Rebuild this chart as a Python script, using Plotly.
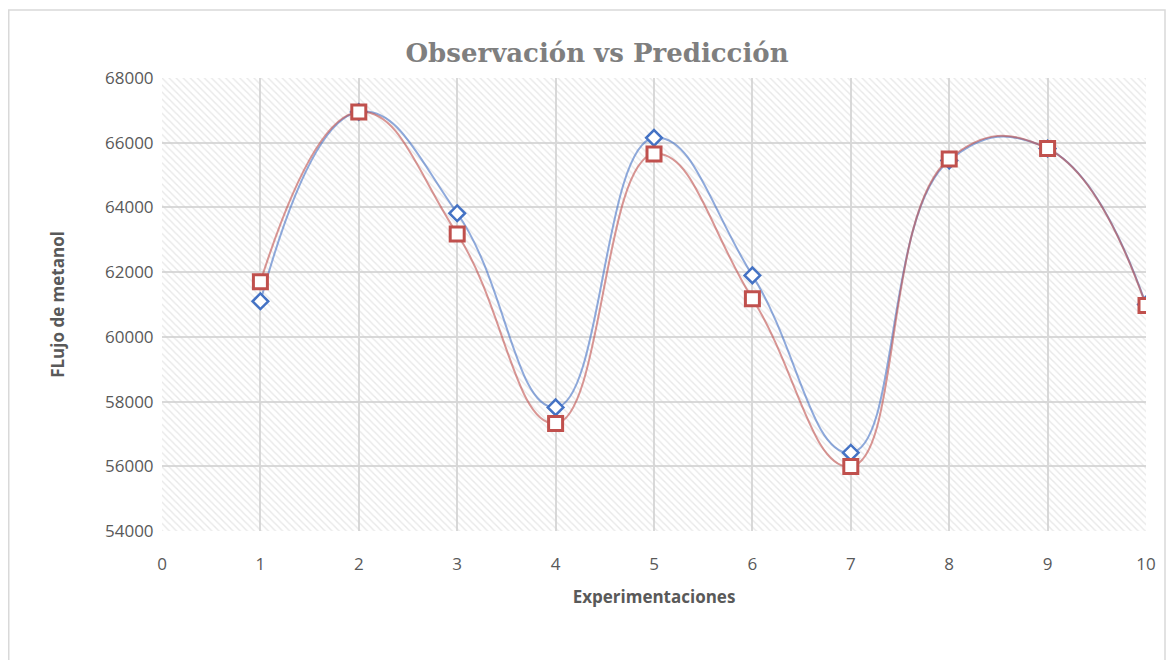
import plotly.graph_objects as go

experiments = [1, 2, 3, 4, 5, 6, 7, 8, 9, 10]
observacion = [61100, 66950, 63820, 57820, 66150, 61900, 56420, 65450, 65820, 61000]
prediccion = [61700, 66950, 63180, 57320, 65650, 61180, 55990, 65500, 65820, 60970]

x_range = [0, 10]
y_range = [54000, 68000]

fig = go.Figure()

# hatched plot-area background
fig.add_trace(go.Scatter(
    x=[x_range[0], x_range[1], x_range[1], x_range[0], x_range[0]],
    y=[y_range[0], y_range[0], y_range[1], y_range[1], y_range[0]],
    mode="lines", line=dict(width=0), fill="toself",
    fillcolor="rgba(0,0,0,0)",
    fillpattern=dict(shape="\\", size=5, solidity=0.28,
                     fgcolor="#d2d2d2", bgcolor="rgba(0,0,0,0)"),
    hoverinfo="skip", showlegend=False))

fig.add_trace(go.Scatter(
    x=experiments, y=observacion, mode="lines+markers", name="Observación",
    line=dict(color="rgba(68,114,196,0.6)", width=2, shape="spline", smoothing=1.3),
    marker=dict(symbol="diamond", size=12, color="white",
                line=dict(color="#4472C4", width=2.5)),
    showlegend=False))

fig.add_trace(go.Scatter(
    x=experiments, y=prediccion, mode="lines+markers", name="Predicción",
    line=dict(color="rgba(192,80,77,0.6)", width=2, shape="spline", smoothing=1.3),
    marker=dict(symbol="square", size=14, color="white",
                line=dict(color="#C0504D", width=3)),
    showlegend=False))

# page offset of the figure (body margin)
OX, OY = 8, 8
W, H = 1160, 652
L = 162 - OX
T = 78 - OY
R = OX + W - 1146
B = OY + H - 531
pw, ph = W - L - R, H - T - B

fig.add_shape(type="rect", xref="paper", yref="paper",
              x0=(0.75 - L) / pw, x1=(1157 - L) / pw,
              y0=-(B + 40) / ph, y1=1 + (T - 2) / ph,
              line=dict(color="#d9d9d9", width=1.5), fillcolor="rgba(0,0,0,0)", layer="below")

fig.update_layout(
    width=W, height=H,
    margin=dict(l=L, r=R, t=T, b=B),
    paper_bgcolor="white", plot_bgcolor="white",
    title=dict(text="<b>Observación vs Predicción</b>", x=(597 - OX) / W, xanchor="center",
               y=1 - (53 - OY) / H, yanchor="middle",
               font=dict(family="DejaVu Serif", size=26, color="#7f7f7f")),
    xaxis=dict(range=x_range, dtick=1, tick0=0, showgrid=True, gridcolor="#d9d9d9", gridwidth=1.5,
               zeroline=False, showline=False, ticks="outside", ticklen=18,
               tickcolor="rgba(0,0,0,0)",
               tickfont=dict(family="Open Sans", size=17, color="#595959"),
               title=dict(text="<b>Experimentaciones</b>", standoff=16,
                          font=dict(family="Open Sans", size=17, color="#595959"))),
    yaxis=dict(range=y_range, dtick=2000, tickformat="d", showgrid=True, gridcolor="#d9d9d9",
               gridwidth=1.5, zeroline=False, showline=False, ticks="outside", ticklen=4,
               tickcolor="rgba(0,0,0,0)",
               tickfont=dict(family="Open Sans", size=17, color="#595959"),
               title=dict(text="<b>FLujo de metanol</b>", standoff=36,
                          font=dict(family="Open Sans", size=17, color="#595959"))),
)

fig.write_html("out.html")
